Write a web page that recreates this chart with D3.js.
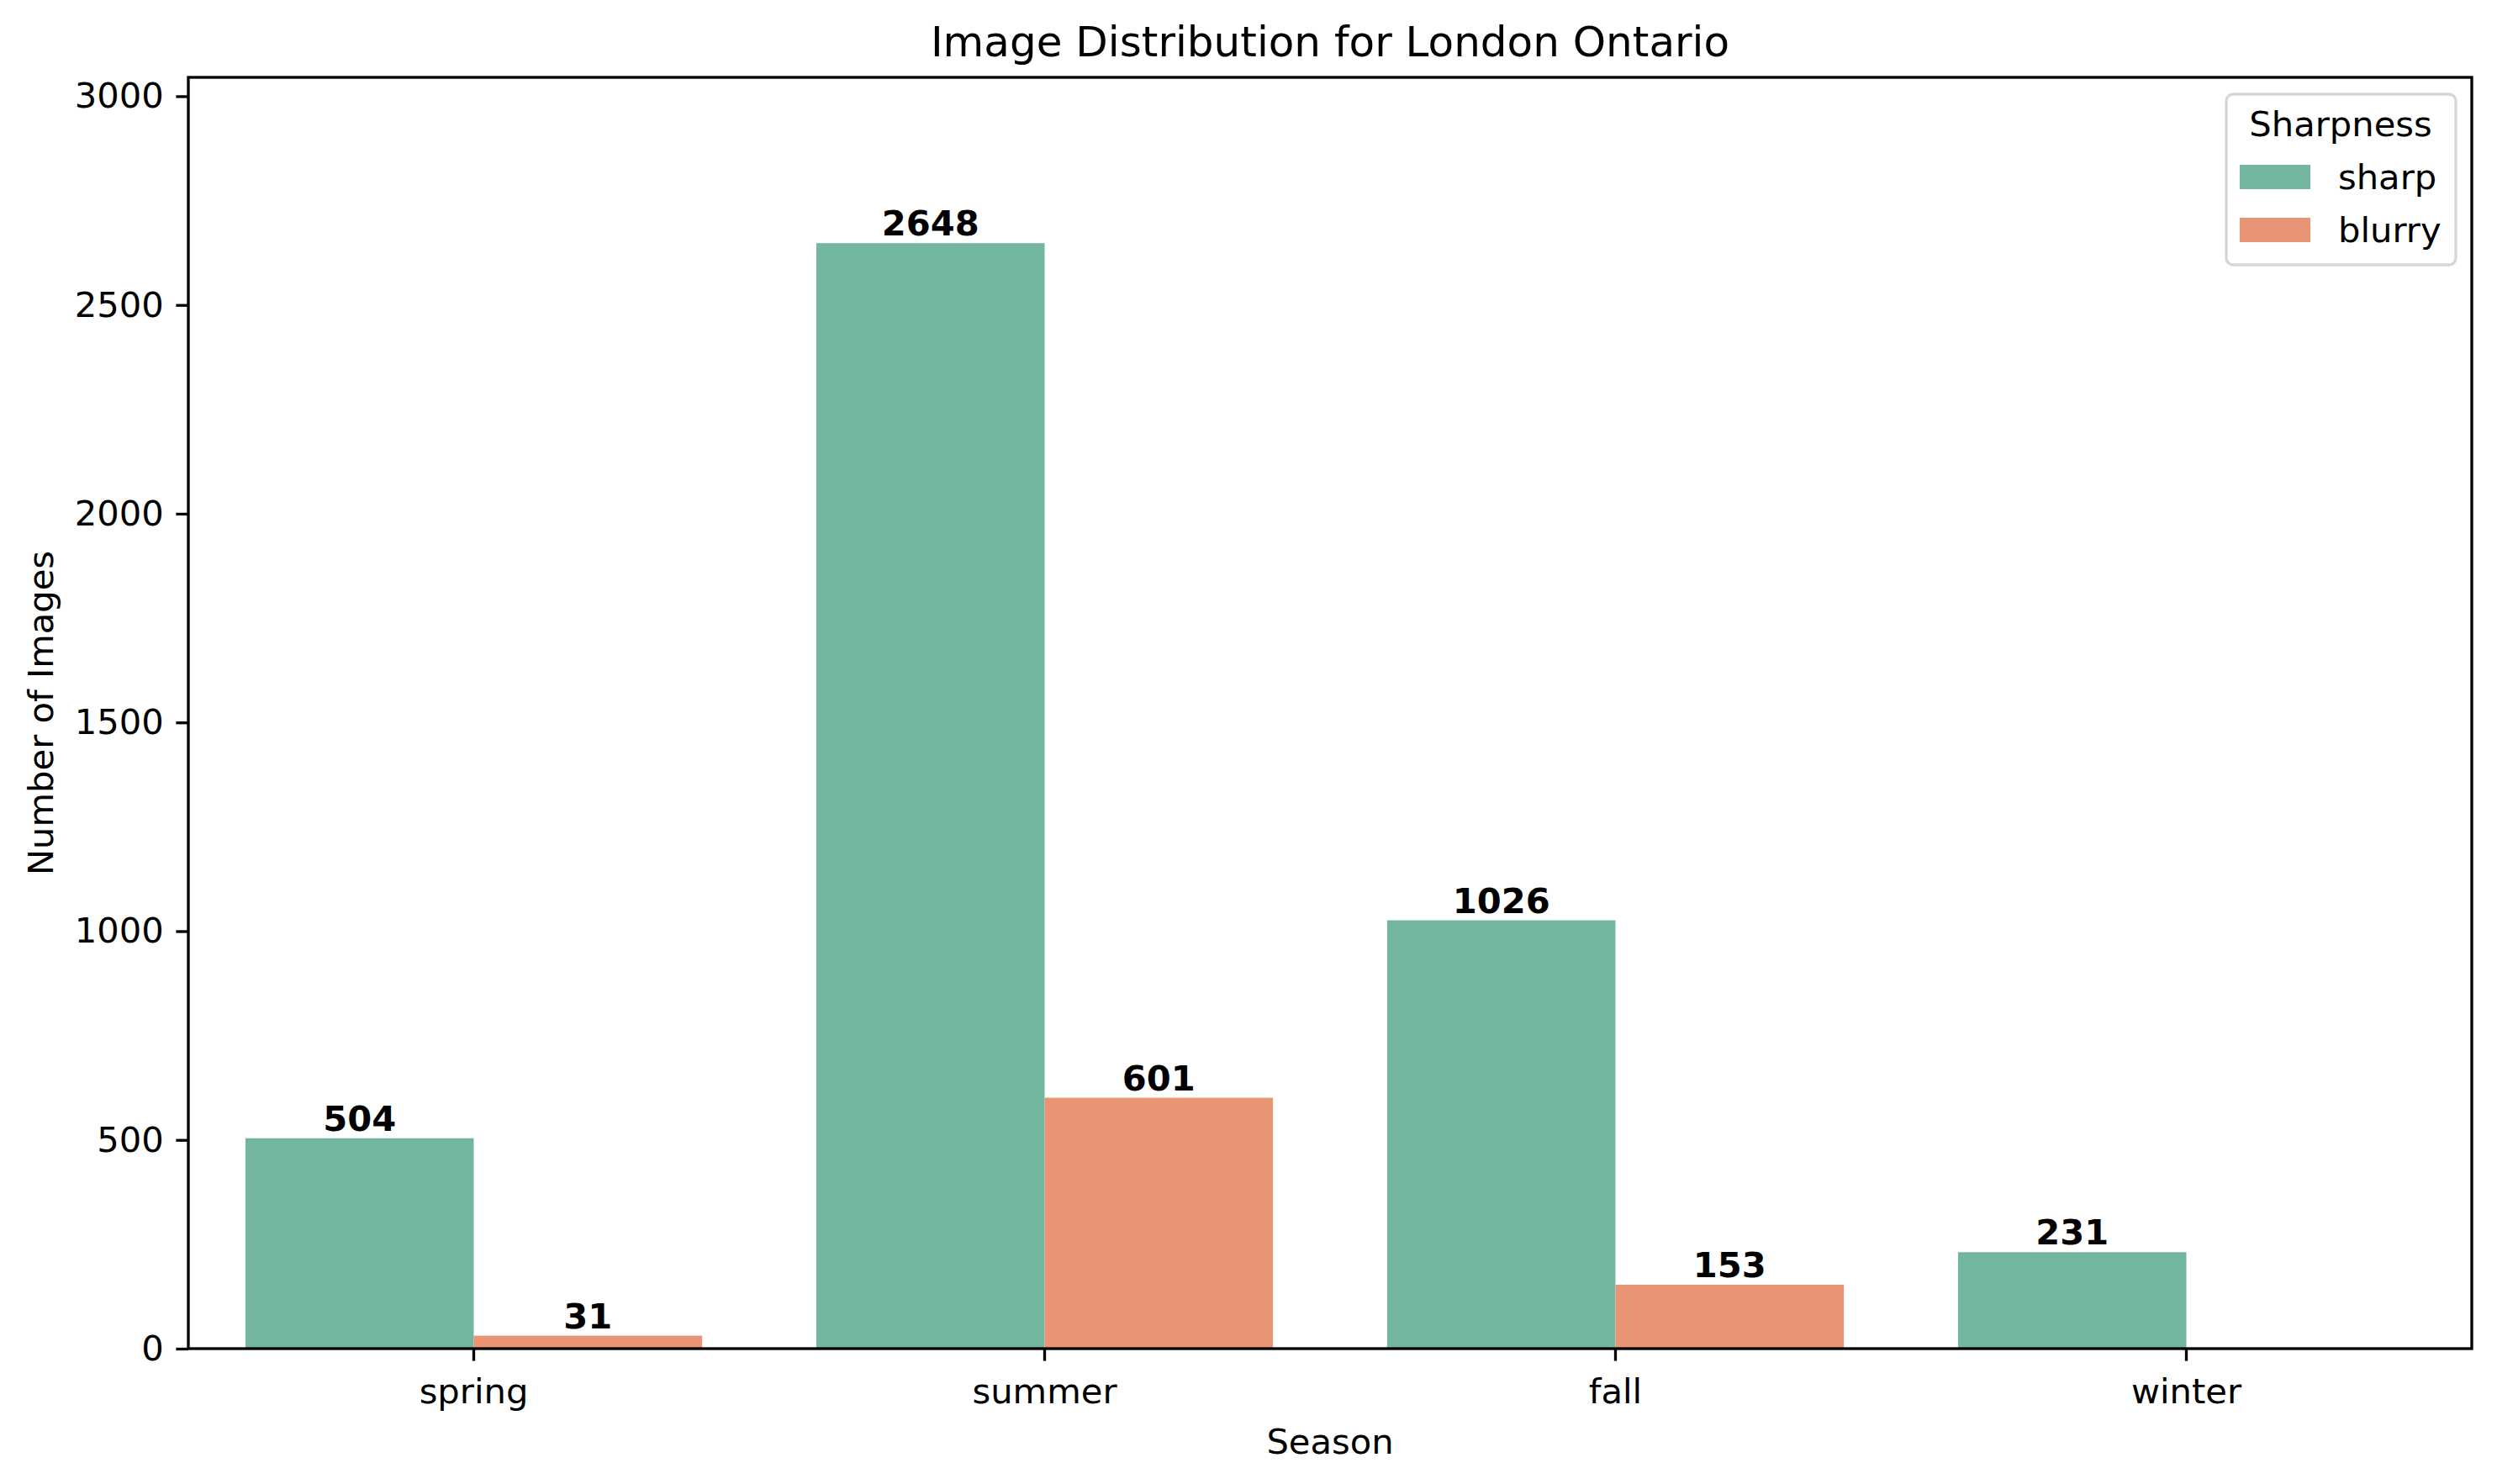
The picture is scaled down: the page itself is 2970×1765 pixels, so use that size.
<!DOCTYPE html>
<html>
<head>
<meta charset="utf-8">
<script src="https://cdn.jsdelivr.net/npm/d3@7"></script>
<style>
  html, body { margin: 0; padding: 0; background: #fff; }
  svg { display: block; font-family: "DejaVu Sans", sans-serif; }
</style>
</head>
<body>
<div id="chart"></div>
<script>
// data
const seasons = ["spring", "summer", "fall", "winter"];
const hues = ["sharp", "blurry"];
const sharpCounts = [504, 2648, 1026, 231];
const blurryCounts = [31, 601, 153, null]; // no blurry images in winter
const yTicks = [0, 500, 1000, 1500, 2000, 2500, 3000];
const hueColors = ["#72b6a1", "#e99575"];

const W = 2970, H = 1765;
const margin = { left: 224, right: 30, top: 92, bottom: 161 };
const fs = 41.67; // 10pt @ 300dpi

const svg = d3.select("#chart").append("svg")
    .attr("width", W).attr("height", H);

const x = d3.scaleBand()
    .domain(seasons)
    .range([margin.left, W - margin.right])
    .paddingInner(0.2).paddingOuter(0.1);
const xHue = d3.scaleBand()
    .domain(hues)
    .range([0, x.bandwidth()]);
const y = d3.scaleLinear()
    .domain([0, d3.max(sharpCounts) * 1.15])
    .range([H - margin.bottom, margin.top]);

// build rows for bars
const rows = [];
seasons.forEach((s, i) => {
    rows.push({ season: s, hue: "sharp", value: sharpCounts[i] });
    if (blurryCounts[i] != null) rows.push({ season: s, hue: "blurry", value: blurryCounts[i] });
});

const g = svg.append("g");

g.selectAll("rect.bar").data(rows).enter().append("rect")
    .attr("class", "bar")
    .attr("x", d => x(d.season) + xHue(d.hue))
    .attr("width", xHue.bandwidth())
    .attr("y", d => y(d.value))
    .attr("height", d => y(0) - y(d.value))
    .attr("fill", d => hueColors[hues.indexOf(d.hue)]);

// value labels
g.selectAll("text.val").data(rows).enter().append("text")
    .attr("class", "val")
    .attr("x", d => x(d.season) + xHue(d.hue) + xHue.bandwidth() / 2)
    .attr("y", d => y(d.value) - 9)
    .attr("text-anchor", "middle")
    .attr("font-weight", "bold")
    .attr("font-size", fs)
    .text(d => d.value);

// axes
const tickLen = 14.6, tickPad = 14.6, lw = 3.33;
const xAxis = svg.append("g")
    .attr("transform", `translate(0,${y(0)})`)
    .call(d3.axisBottom(x).tickSize(tickLen).tickPadding(tickPad));
const yAxis = svg.append("g")
    .attr("transform", `translate(${margin.left},0)`)
    .call(d3.axisLeft(y).tickValues(yTicks).tickFormat(d3.format("d")).tickSize(tickLen).tickPadding(tickPad));

[xAxis, yAxis].forEach(a => {
    a.select(".domain").remove();
    a.selectAll(".tick line").attr("stroke", "#000").attr("stroke-width", lw);
    a.selectAll(".tick text").attr("font-size", fs).attr("fill", "#000")
        .attr("font-family", "DejaVu Sans, sans-serif");
});
xAxis.selectAll(".tick text").attr("dy", "0.85em");

// frame
svg.append("rect")
    .attr("x", margin.left).attr("y", margin.top)
    .attr("width", W - margin.right - margin.left)
    .attr("height", H - margin.bottom - margin.top)
    .attr("fill", "none").attr("stroke", "#000").attr("stroke-width", lw);

// title and axis labels
const cx = (margin.left + W - margin.right) / 2;
svg.append("text").attr("x", cx).attr("y", 67)
    .attr("text-anchor", "middle").attr("font-size", 50)
    .text("Image Distribution for London Ontario");
svg.append("text").attr("x", cx).attr("y", 1729)
    .attr("text-anchor", "middle").attr("font-size", fs)
    .text("Season");
svg.append("text")
    .attr("transform", `translate(63,${(margin.top + H - margin.bottom) / 2}) rotate(-90)`)
    .attr("text-anchor", "middle").attr("font-size", fs)
    .text("Number of Images");

// legend
const lg = svg.append("g").attr("transform", "translate(2648,112)");
lg.append("rect").attr("width", 273).attr("height", 203)
    .attr("rx", 8).attr("fill", "#fff").attr("fill-opacity", 0.8)
    .attr("stroke", "#d6d6d6").attr("stroke-width", 3.3);
lg.append("text").attr("x", 136).attr("y", 50)
    .attr("text-anchor", "middle").attr("font-size", fs).text("Sharpness");
hues.forEach((h, i) => {
    const yy = 84 + i * 63;
    lg.append("rect").attr("x", 16).attr("y", yy).attr("width", 84).attr("height", 29)
        .attr("fill", hueColors[i]);
    lg.append("text").attr("x", 133).attr("y", yy + 29).attr("font-size", fs).text(h);
});
</script>
</body>
</html>
